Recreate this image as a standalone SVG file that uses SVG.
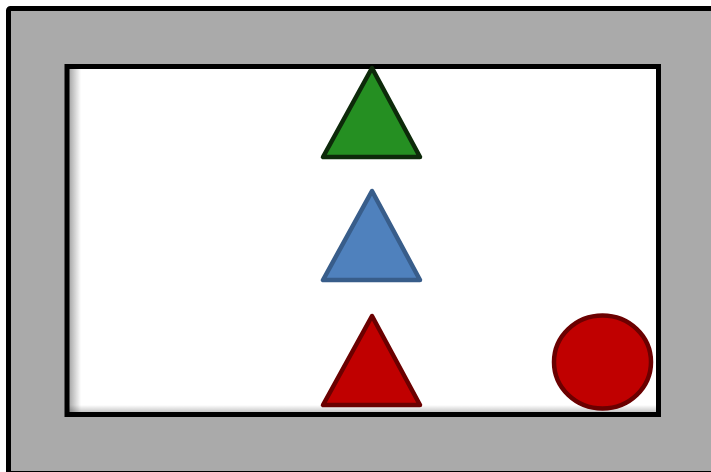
<svg xmlns="http://www.w3.org/2000/svg" width="711" height="472" viewBox="0 0 711 472">
<defs>
<linearGradient id="shL" x1="0" y1="0" x2="1" y2="0"><stop offset="0" stop-color="#000" stop-opacity="0.35"/><stop offset="1" stop-color="#000" stop-opacity="0"/></linearGradient>
<linearGradient id="shB" x1="0" y1="1" x2="0" y2="0"><stop offset="0" stop-color="#000" stop-opacity="0.25"/><stop offset="1" stop-color="#000" stop-opacity="0"/></linearGradient>
</defs>
<style>
.tri{stroke-width:4.5;stroke-linejoin:round}
</style>
<g id="frame">
<rect x="8.5" y="8.5" width="712" height="465" fill="#aaaaaa" stroke="#000" stroke-width="5" rx="2"/>
</g>
<g id="panel">
<rect x="67" y="66.5" width="591.5" height="348" fill="#fff"/>
<rect x="69" y="68" width="12" height="344" fill="url(#shL)"/>
<rect x="69" y="405" width="588" height="8" fill="url(#shB)"/>
<rect x="67" y="66.5" width="591.5" height="348" fill="none" stroke="#000" stroke-width="5"/>
</g>
<g id="green-triangle"><polygon class="tri" points="372,68 323,157 420,157" fill="#258f22" stroke="#0d2a0a"/></g>
<g id="blue-triangle"><polygon class="tri" points="372,191 323,280 420,280" fill="#4f81bd" stroke="#385d8a"/></g>
<g id="red-triangle"><polygon class="tri" points="372,316 323,405 420,405" fill="#c00000" stroke="#6b0000"/></g>
<g id="red-circle"><ellipse cx="602.5" cy="362" rx="48.5" ry="46.5" fill="#c00000" stroke="#6b0000" stroke-width="4.5"/></g>
<g id="connectors"/>
</svg>
